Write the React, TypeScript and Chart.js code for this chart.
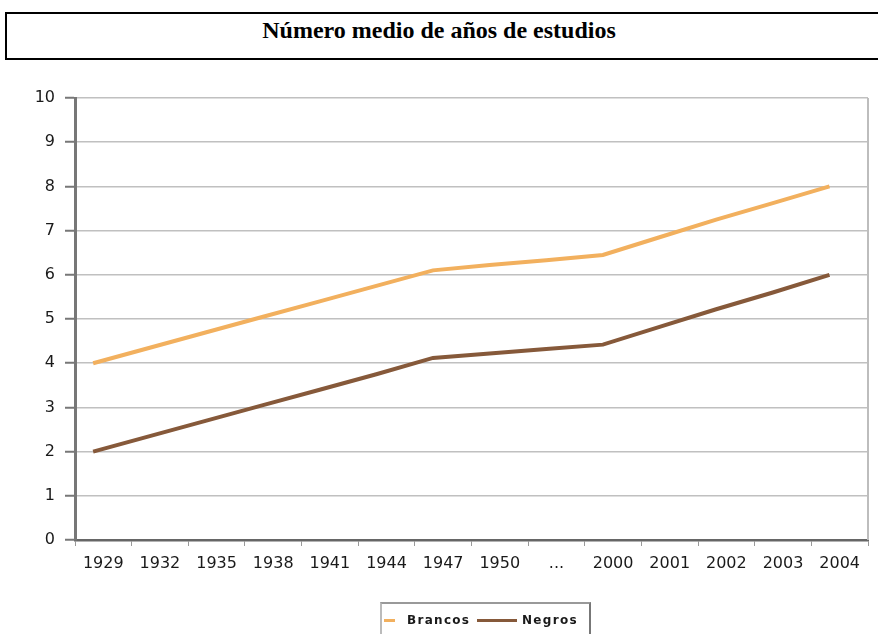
import React, { useEffect, useRef } from "react";
import { Chart, registerables } from "chart.js";

Chart.register(...registerables);

const categories = ["1929", "1932", "1935", "1938", "1941", "1944", "1947", "1950", "...", "2000", "2001", "2002", "2003", "2004"];
const brancos = [4.0, 4.35, 4.7, 5.05, 5.4, 5.75, 6.1, 6.22, 6.33, 6.45, 6.85, 7.25, 7.62, 8.0];
const negros = [2.0, 2.35, 2.7, 3.05, 3.4, 3.75, 4.12, 4.22, 4.32, 4.42, 4.82, 5.22, 5.6, 6.0];
const yMin = 0;
const yMax = 10;
const yStep = 1;

const BRANCOS_COLOR = "#F2B05E";
const NEGROS_COLOR = "#86593A";

const X_START = -0.32;

const rightBorder = {
  id: "rightBorder",
  afterDraw(chart: any) {
    const { ctx, chartArea } = chart;
    ctx.save();
    ctx.strokeStyle = "#BDBDBD";
    ctx.lineWidth = 2;
    ctx.beginPath();
    ctx.moveTo(chartArea.right, chartArea.top);
    ctx.lineTo(chartArea.right, chartArea.bottom);
    ctx.stroke();
    ctx.restore();
  },
};

export default function App() {
  const ref = useRef<HTMLCanvasElement | null>(null);

  useEffect(() => {
    if (!ref.current) return;
    const chart = new Chart(ref.current, {
      type: "line",
      data: {
        datasets: [
          {
            label: "Brancos",
            data: brancos.map((y, i) => ({ x: i, y })),
            borderColor: BRANCOS_COLOR,
            backgroundColor: BRANCOS_COLOR,
            borderWidth: 4,
            pointRadius: 0,
            tension: 0,
          },
          {
            label: "Negros",
            data: negros.map((y, i) => ({ x: i, y })),
            borderColor: NEGROS_COLOR,
            backgroundColor: NEGROS_COLOR,
            borderWidth: 4,
            pointRadius: 0,
            tension: 0,
          },
        ],
      },
      options: {
        responsive: false,
        animation: false,
        layout: { padding: { top: 28, right: 10, left: 0, bottom: 0 } },
        plugins: {
          legend: { display: false },
          title: { display: false },
          tooltip: { enabled: false },
        },
        scales: {
          x: {
            type: "linear",
            min: X_START,
            max: X_START + categories.length,
            afterBuildTicks: (s: any) => {
              s.ticks = categories.concat([""]).map((_, k) => ({ value: X_START + k }));
            },
            afterFit: (s: any) => {
              s.height = 94;
            },
            ticks: {
              autoSkip: false,
              maxRotation: 0,
              minRotation: 0,
              labelOffset: 28.3,
              padding: 8,
              color: "#1a1a1a",
              font: { family: "DejaVu Sans", size: 16 },
              callback: (_v: any, i: number) => categories[i] ?? "",
            },
            grid: {
              drawOnChartArea: false,
              drawTicks: true,
              tickLength: 6,
              tickColor: "#999",
              tickWidth: 1,
            },
            border: { display: true, color: "#666", width: 2.5 },
          },
          y: {
            min: yMin,
            max: yMax,
            afterFit: (s: any) => {
              s.width = 75;
            },
            ticks: {
              stepSize: yStep,
              padding: 10,
              color: "#1a1a1a",
              font: { family: "DejaVu Sans", size: 16 },
            },
            grid: {
              color: "#C0C0C0",
              lineWidth: 1.5,
              tickLength: 10,
              tickColor: "#777",
              tickWidth: 2,
            },
            border: { display: true, color: "#777", width: 3 },
          },
        },
      } as any,
      plugins: [rightBorder],
    });
    return () => chart.destroy();
  }, []);

  const legendText: React.CSSProperties = {
    position: "absolute",
    top: 612,
    fontFamily: "DejaVu Sans",
    fontWeight: "bold",
    fontSize: 12,
    letterSpacing: 1.3,
    lineHeight: "16px",
    color: "#1a1a1a",
    whiteSpace: "nowrap",
  };

  return (
    <div
      style={{
        position: "fixed",
        left: 0,
        top: 0,
        width: 878,
        height: 634,
        overflow: "hidden",
        background: "#fff",
      }}
    >
      <div
        style={{
          position: "absolute",
          left: 5,
          top: 12,
          width: 1000,
          height: 44,
          border: "2px solid #000",
        }}
      />
      <div
        style={{
          position: "absolute",
          left: 0,
          top: 15,
          width: 878,
          textAlign: "center",
          fontFamily: "'Liberation Serif', 'DejaVu Serif', serif",
          fontWeight: "bold",
          fontSize: 24,
          lineHeight: "30px",
          color: "#000",
        }}
      >
        Número medio de años de estudios
      </div>
      <div style={{ position: "absolute", left: 0, top: 70, width: 878, height: 564 }}>
        <canvas ref={ref} width={878} height={564} />
      </div>
      <div
        style={{
          position: "absolute",
          left: 380,
          top: 602,
          width: 211,
          height: 45,
          boxSizing: "border-box",
          borderTop: "2px solid #999",
          borderLeft: "2px solid #BBB",
          borderRight: "2px solid #777",
        }}
      />
      <div style={{ position: "absolute", left: 384, top: 619, width: 11, height: 3, background: BRANCOS_COLOR }} />
      <div style={{ ...legendText, left: 407 }}>Brancos</div>
      <div style={{ position: "absolute", left: 477, top: 619, width: 40, height: 3, background: NEGROS_COLOR }} />
      <div style={{ ...legendText, left: 522 }}>Negros</div>
    </div>
  );
}
